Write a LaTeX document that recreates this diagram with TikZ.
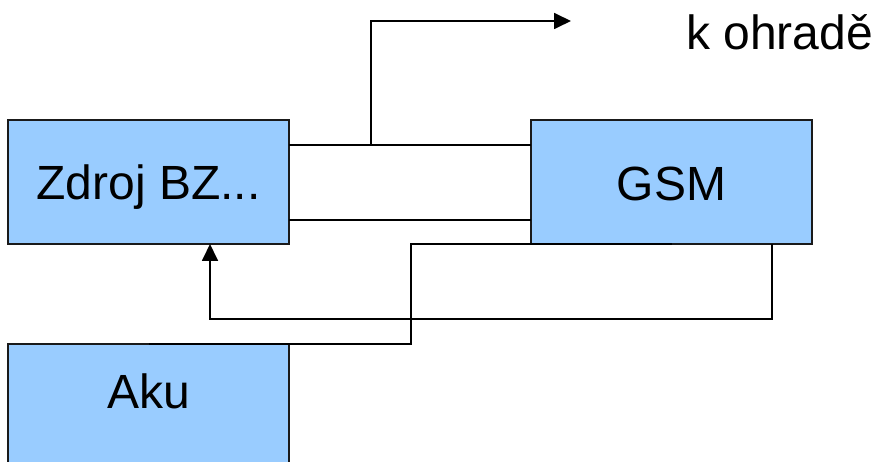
\documentclass[tikz,border=0pt]{standalone}
\usepackage{fontspec}
\setmainfont{Liberation Sans}
\usetikzlibrary{arrows.meta}
\definecolor{boxblue}{HTML}{99CCFF}
\definecolor{edge}{HTML}{1A1A1A}
\tikzset{
  blk/.style={draw=edge, fill=boxblue, line width=1.8pt, minimum width=281pt, minimum height=124pt, inner sep=0pt, outer sep=0pt},
  lbl/.style={font=\fontsize{48}{56}\selectfont, inner sep=0pt, anchor=base},
  wire/.style={draw=black, line width=1.8pt},
  arr/.style={wire, -{Triangle[length=17pt,width=16pt]}}
}
\begin{document}
\begin{tikzpicture}[x=1pt,y=-1pt]
\useasboundingbox (0,0) rectangle (875,462);
% boxes
\node[blk] (zdroj) at (148.5,182) {};
\node[blk] (gsm) at (671.5,182) {};
\node[blk] (aku) at (148.5,406) {};
% connectors
\draw[wire] ([yshift=-25pt]zdroj.north east) -- ([yshift=-25pt]gsm.north west);
\draw[wire] ([yshift=24pt]zdroj.south east) -- ([yshift=24pt]gsm.south west);
\coordinate (tap) at (371,145);
\coordinate (kout) at (571,21);
\draw[arr] (tap) |- (kout);
\coordinate (bend) at (411,244);
\draw[wire] (aku.north) -| (bend) -- (gsm.south);
\draw[arr] ([xshift=-40pt]gsm.south east) -- ++(0,75) -| ([xshift=61.5pt]zdroj.south);
% labels
\node[lbl] (tz) at (148.5,200) {Zdroj BZ...};
\node[lbl] (tg) at (671.5,201) {GSM};
\node[lbl] (ta) at (148.5,408) {Aku};
\node[lbl, anchor=base west] (tk) at (686,50) {k ohradě};
\end{tikzpicture}
\end{document}
